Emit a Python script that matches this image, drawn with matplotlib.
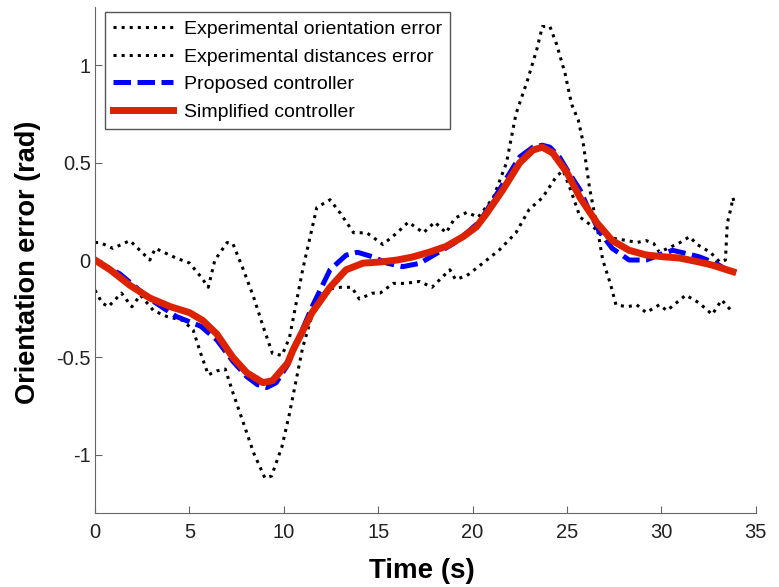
import numpy as np
import matplotlib.pyplot as plt

plt.rcParams['font.family'] = ['Liberation Sans', 'DejaVu Sans']

# experimental orientation error (dotted)
t_orient = [0, 0.26, 0.95, 1.85, 2.9, 3.2, 4.3, 5.0, 5.6, 6.0, 6.35, 7.0, 7.3, 7.8, 8.4, 8.9,
            9.4, 9.9, 10.3, 11.0, 11.75, 12.45, 13.0, 13.7, 14.4, 15.25, 16.0, 16.6, 17.4, 18.0,
            18.6, 19.06, 19.7, 20.3, 21.1, 21.8, 22.3, 22.9, 23.4, 23.7, 24.1, 24.45, 24.9, 25.25,
            25.6, 25.85, 26.2, 26.6, 26.9, 27.3, 27.6, 28.2, 28.7, 29.2, 29.9, 30.3, 31.3, 32.0,
            32.7, 33.2, 33.8]
y_orient = [0.09, 0.09, 0.06, 0.10, 0.0, 0.06, 0.01, -0.015, -0.085, -0.14, 0.0, 0.09, 0.085,
            -0.035, -0.19, -0.34, -0.48, -0.49, -0.40, -0.05, 0.27, 0.31, 0.24, 0.14, 0.14, 0.08,
            0.14, 0.195, 0.14, 0.195, 0.14, 0.215, 0.245, 0.22, 0.32, 0.50, 0.75, 0.92, 1.08, 1.2,
            1.2, 1.11, 0.96, 0.80, 0.72, 0.61, 0.37, 0.17, 0.0, -0.12, -0.23, -0.24, -0.23, -0.27,
            -0.23, -0.26, -0.18, -0.22, -0.28, -0.205, -0.27]

# experimental distances error (dotted)
t_dist = [0, 0.37, 0.7, 1.4, 1.95, 2.4, 3.1, 3.8, 4.65, 5.2, 5.6, 6.0, 6.45, 6.9, 7.3, 7.8,
          8.4, 9.0, 9.35, 9.9, 10.3, 11.0, 11.6, 12.3, 13.0, 13.6, 14.0, 14.7, 15.1, 15.8, 16.4,
          17.2, 17.85, 18.8, 19.1, 19.7, 20.3, 21.4, 22.3, 23.0, 23.7, 24.45, 24.8, 25.2, 25.7,
          26.4, 26.9, 28.2, 28.7, 29.2, 29.6, 29.9, 31.0, 31.5, 31.9, 32.6, 33.1, 33.4, 33.5,
          33.7, 33.8, 33.9]
y_dist = [-0.155, -0.22, -0.24, -0.17, -0.24, -0.18, -0.26, -0.29, -0.31, -0.36, -0.48, -0.59,
          -0.57, -0.56, -0.68, -0.82, -0.99, -1.12, -1.11, -0.96, -0.79, -0.45, -0.25, -0.15,
          -0.14, -0.14, -0.2, -0.17, -0.17, -0.12, -0.12, -0.11, -0.14, -0.05, -0.10, -0.08,
          -0.035, 0.05, 0.14, 0.26, 0.32, 0.43, 0.46, 0.36, 0.22, 0.17, 0.12, 0.10, 0.09, 0.10,
          0.085, 0.04, 0.09, 0.12, 0.08, 0.04, -0.01, 0.0, 0.19, 0.27, 0.32, 0.28]

# proposed controller (blue dashed)
t_prop = [0, 0.8, 1.3, 2.9, 4.3, 5.6, 6.45, 7.3, 8.05, 8.6, 9.1, 9.6, 10.2, 10.8, 11.5, 12.45,
          13.3, 13.9, 14.7, 15.5, 16.3, 17.2, 18.1, 19.0, 19.7, 20.4, 21.1, 21.8, 22.5, 23.2,
          23.7, 24.1, 24.6, 25.1, 25.7, 26.2, 26.7, 27.4, 28.3, 29.2, 30.0, 30.6, 31.3, 32.0,
          32.9, 33.8]
y_prop = [0.0, -0.045, -0.07, -0.2, -0.29, -0.34, -0.41, -0.52, -0.6, -0.64, -0.655, -0.63,
          -0.54, -0.4, -0.24, -0.05, 0.025, 0.04, 0.017, -0.017, -0.034, -0.017, 0.034, 0.085,
          0.14, 0.2, 0.31, 0.42, 0.53, 0.58, 0.59, 0.58, 0.53, 0.45, 0.36, 0.25, 0.15, 0.06,
          0.0, 0.0, 0.03, 0.05, 0.034, 0.017, -0.017, -0.07]

# simplified controller (red solid)
t_simp = [0, 0.8, 1.85, 2.9, 4.0, 5.0, 5.7, 6.45, 7.3, 8.05, 8.9, 9.4, 10.2, 10.5, 11.5, 12.45,
          13.3, 14.2, 15.1, 16.0, 16.8, 17.7, 18.6, 19.5, 20.2, 20.75, 21.6, 22.5, 23.2, 23.7,
          24.25, 25.0, 25.7, 26.6, 27.4, 28.3, 29.2, 30.1, 31.0, 32.0, 32.7, 33.8]
y_simp = [0.0, -0.05, -0.13, -0.195, -0.24, -0.27, -0.31, -0.38, -0.5, -0.58, -0.63, -0.62,
          -0.53, -0.46, -0.27, -0.14, -0.05, -0.016, -0.01, 0.0, 0.015, 0.04, 0.07, 0.12, 0.17,
          0.24, 0.36, 0.5, 0.565, 0.58, 0.55, 0.45, 0.32, 0.19, 0.10, 0.05, 0.026, 0.017, 0.01,
          -0.01, -0.026, -0.06]

fig = plt.figure(figsize=(7.79, 5.87), dpi=100)
ax = fig.add_axes([0.122, 0.126, 0.848, 0.862])

ax.plot(t_orient, y_orient, color='black', linestyle=':', linewidth=2.2,
        label='Experimental orientation error')
ax.plot(t_dist, y_dist, color='black', linestyle=':', linewidth=2.2,
        label='Experimental distances error')
ax.plot(t_prop, y_prop, color='#0000ff', linestyle=(0, (3.5, 1.3)), linewidth=3.6,
        label='Proposed controller')
ax.plot(t_simp, y_simp, color='#dd2200', linestyle='-', linewidth=5,
        label='Simplified controller')

ax.set_xlim(0, 35)
ax.set_ylim(-1.3, 1.3)
ax.set_xticks([0, 5, 10, 15, 20, 25, 30, 35])
ax.set_yticks([-1, -0.5, 0, 0.5, 1])
ax.set_yticklabels(['-1', '-0.5', '0', '0.5', '1'])

for side in ['top', 'right']:
    ax.spines[side].set_visible(False)
for side in ['left', 'bottom']:
    ax.spines[side].set_color('#666666')
ax.tick_params(direction='in', length=5, color='#666666', labelsize=14.5, labelcolor='#222222')
ax.tick_params(axis='x', pad=7)
ax.tick_params(axis='y', pad=3)

ax.set_xlabel('Time (s)', fontsize=20, fontweight='bold')
ax.set_ylabel('Orientation error (rad)', fontsize=19.5, fontweight='bold')
ax.xaxis.set_label_coords(0.495, -0.089)
ax.yaxis.set_label_coords(-0.082, 0.495)

leg = ax.legend(loc='upper left', bbox_to_anchor=(105 / 779, 1 - 12 / 587),
                bbox_transform=fig.transFigure, fontsize=14, handlelength=3.1,
                labelspacing=0.52, borderpad=0.42, handletextpad=0.55, fancybox=False,
                framealpha=1, edgecolor='#555555', borderaxespad=0)
leg.get_frame().set_linewidth(1.0)

fig.savefig('out.png', dpi=100)
